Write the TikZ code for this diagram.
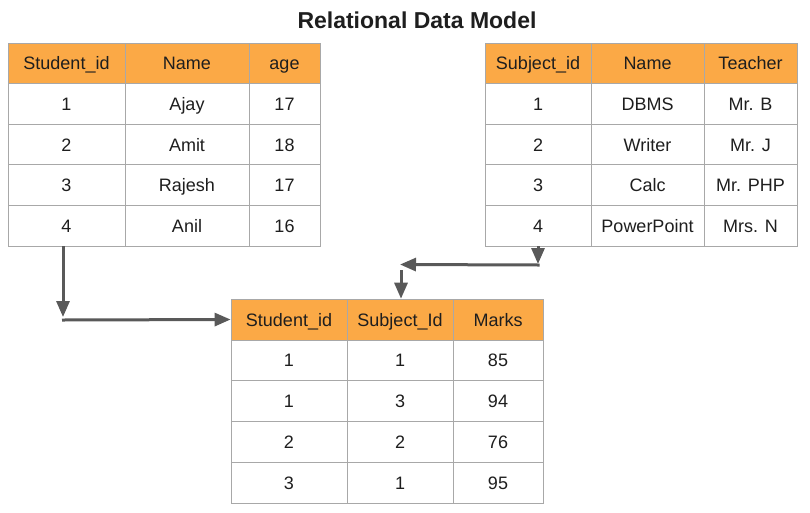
\documentclass[tikz,border=0pt]{standalone}
\usepackage{fontspec}
\setmainfont{Liberation Sans}
\usetikzlibrary{arrows.meta}
\definecolor{hdr}{HTML}{FBA946}
\definecolor{gridc}{HTML}{A8A8A8}
\definecolor{arr}{HTML}{595959}
\definecolor{txt}{HTML}{1E1E1E}
\begin{document}
\begin{tikzpicture}[x=1pt,y=-1pt,
  cell/.style={draw=gridc, line width=0.8pt, inner sep=0pt, minimum height=40.6pt,
    text height=14.5pt, text depth=1.5pt, text=txt, font=\fontsize{18}{20}\selectfont},
  head/.style={cell, fill=hdr},
  arrow/.style={draw=arr, line width=3pt, -{Triangle[length=16pt,width=13pt]}}]
\useasboundingbox (0,0) rectangle (810,512);
\fill[white] (0,0) rectangle (810,512);
\node[font=\bfseries\fontsize{23}{26}\selectfont, text=txt] (title) at (417,20) {Relational Data Model};
% Table 1
\foreach \c/\x/\w/\t in {1/66.5/117/Student\_id, 2/187/124/Name, 3/284.5/71/age}
  \node[head, minimum width=\w pt] (a0\c) at (\x,63.3) {\t};
\foreach \r/\y/\p/\q/\s in {1/103.9/1/Ajay/17, 2/144.5/2/Amit/18, 3/185.1/3/Rajesh/17, 4/225.7/4/Anil/16}{
  \node[cell, minimum width=117pt] (a\r1) at (66.5,\y) {\p};
  \node[cell, minimum width=124pt] (a\r2) at (187,\y) {\q};
  \node[cell, minimum width=71pt] (a\r3) at (284.5,\y) {\s};
}
% Table 2
\foreach \c/\x/\w/\t in {1/538/106/Subject\_id, 2/647.5/113/Name, 3/750.5/93/Teacher}
  \node[head, minimum width=\w pt] (b0\c) at (\x,63.3) {\t};
\foreach \r/\y/\p/\q/\s in {1/103.9/1/DBMS/Mr. B, 2/144.5/2/Writer/Mr. J, 3/185.1/3/Calc/Mr. PHP, 4/225.7/4/PowerPoint/Mrs. N}{
  \node[cell, minimum width=106pt] (b\r1) at (538,\y) {\p};
  \node[cell, minimum width=113pt] (b\r2) at (647.5,\y) {\q};
  \node[cell, minimum width=93pt] (b\r3) at (750.5,\y) {\s};
}
% Table 3
\foreach \c/\x/\w/\t in {1/289/116/Student\_id, 2/400/106/Subject\_Id, 3/498/90/Marks}
  \node[head, minimum width=\w pt, minimum height=40.8pt] (c0\c) at (\x,319.5) {\t};
\foreach \r/\y/\p/\q/\s in {1/360.3/1/1/85, 2/401.1/1/3/94, 3/441.9/2/2/76, 4/482.7/3/1/95}{
  \node[cell, minimum width=116pt, minimum height=40.8pt] (c\r1) at (289,\y) {\p};
  \node[cell, minimum width=106pt, minimum height=40.8pt] (c\r2) at (400,\y) {\q};
  \node[cell, minimum width=90pt, minimum height=40.8pt] (c\r3) at (498,\y) {\s};
}
% Connectors
\coordinate (k1) at (63,317);
\coordinate (k2) at (62,320);
\coordinate (k3) at (538,264);
\coordinate (k4) at (539.5,265);
\coordinate (k5) at (400,264.5);
\coordinate (k6) at (401,270);
\draw[arrow] ([xshift=-3.5pt]a41.south) -- (k1);
\draw[arrow] (k2) -- (c01.west);
\draw[arrow] (b41.south) -- (k3);
\draw[arrow] (k4) -- (k5);
\draw[arrow] (k6) -- ([xshift=1pt]c02.north);
\end{tikzpicture}
\end{document}
